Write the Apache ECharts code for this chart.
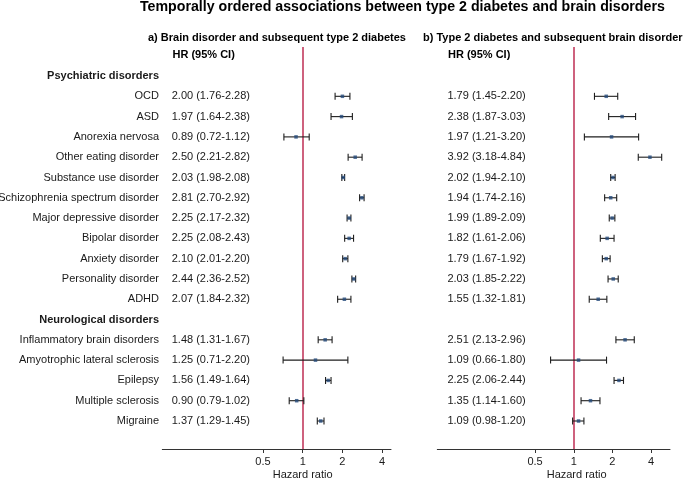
<!DOCTYPE html>
<html><head><meta charset="utf-8">
<script src="https://cdn.jsdelivr.net/npm/echarts@6/dist/echarts.min.js"></script>
<style>html,body{margin:0;padding:0;background:#fff}#c{width:685px;height:478px}</style>
</head><body><div id="c"></div>
<script>
const groupTitles = ['Psychiatric disorders', 'Neurological disorders'];
const psychiatricNames = ['OCD', 'ASD', 'Anorexia nervosa', 'Other eating disorder', 'Substance use disorder',
  'Schizophrenia spectrum disorder', 'Major depressive disorder', 'Bipolar disorder', 'Anxiety disorder',
  'Personality disorder', 'ADHD'];
const neurologicalNames = ['Inflammatory brain disorders', 'Amyotrophic lateral sclerosis', 'Epilepsy',
  'Multiple sclerosis', 'Migraine'];

// a) Brain disorder and subsequent type 2 diabetes
const hrA = [2.00, 1.97, 0.89, 2.50, 2.03, 2.81, 2.25, 2.25, 2.10, 2.44, 2.07, 1.48, 1.25, 1.56, 0.90, 1.37];
const loA = [1.76, 1.64, 0.72, 2.21, 1.98, 2.70, 2.17, 2.08, 2.01, 2.36, 1.84, 1.31, 0.71, 1.49, 0.79, 1.29];
const hiA = [2.28, 2.38, 1.12, 2.82, 2.08, 2.92, 2.32, 2.43, 2.20, 2.52, 2.32, 1.67, 2.20, 1.64, 1.02, 1.45];
// b) Type 2 diabetes and subsequent brain disorder
const hrB = [1.79, 2.38, 1.97, 3.92, 2.02, 1.94, 1.99, 1.82, 1.79, 2.03, 1.55, 2.51, 1.09, 2.25, 1.35, 1.09];
const loB = [1.45, 1.87, 1.21, 3.18, 1.94, 1.74, 1.89, 1.61, 1.67, 1.85, 1.32, 2.13, 0.66, 2.06, 1.14, 0.98];
const hiB = [2.20, 3.03, 3.20, 4.84, 2.10, 2.16, 2.09, 2.06, 1.92, 2.22, 1.81, 2.96, 1.80, 2.44, 1.60, 1.20];

const tickValues = [0.5, 1, 2, 4];

// rows: header, psychiatric items, header, neurological items
const rowLabels = [groupTitles[0], ...psychiatricNames, groupTitles[1], ...neurologicalNames];
const headerRows = [0, psychiatricNames.length + 1];
const itemRow = i => (i < psychiatricNames.length ? i + 1 : i + 2);
const rowIdx = rowLabels.map((_, i) => i);

function hrTextByRow(hr, lo, hi) {
  const m = {};
  hr.forEach((v, i) => { m[itemRow(i)] = v.toFixed(2) + ' (' + lo[i].toFixed(2) + '-' + hi[i].toFixed(2) + ')'; });
  return m;
}
const textA = hrTextByRow(hrA, loA, hiA);
const textB = hrTextByRow(hrB, loB, hiB);

const FONT = 'Liberation Sans, Arial, Helvetica, sans-serif';
const TXT = '#1a1a1a';
const Y_MIN = -1.43, Y_MAX = 18.38;

function renderErr(params, api) {
  const y = api.value(2);
  const p1 = api.coord([api.value(0), y]);
  const p2 = api.coord([api.value(1), y]);
  const h = 3.5;
  const style = { stroke: '#1e1e1e', lineWidth: 1.1, fill: null };
  return {
    type: 'group', children: [
      { type: 'line', shape: { x1: p1[0], y1: p1[1], x2: p2[0], y2: p2[1] }, style },
      { type: 'line', shape: { x1: p1[0], y1: p1[1] - h, x2: p1[0], y2: p1[1] + h }, style },
      { type: 'line', shape: { x1: p2[0], y1: p2[1] - h, x2: p2[0], y2: p2[1] + h }, style }
    ]
  };
}

function xAxisCfg(grid, min, max, namePad) {
  return {
    type: 'log', logBase: 2, gridIndex: grid, min, max, position: 'bottom',
    axisLine: { show: true, onZero: false, lineStyle: { color: '#333', width: 1 } },
    axisTick: { show: true, customValues: tickValues, length: 4, inside: false, lineStyle: { color: '#333' } },
    axisLabel: { customValues: tickValues, margin: 7, fontSize: 11, fontFamily: FONT, color: TXT, formatter: v => String(v) },
    splitLine: { show: false }, minorTick: { show: false },
    name: 'Hazard ratio', nameLocation: 'middle', nameGap: 20, nameMoveOverlap: false,
    nameTextStyle: { fontSize: 11, fontFamily: FONT, color: TXT, padding: [0, 0, 0, namePad] }
  };
}
function yBase(grid) {
  return {
    type: 'value', gridIndex: grid, inverse: true, min: Y_MIN, max: Y_MAX, position: 'left',
    axisLine: { show: false, onZero: false }, axisTick: { show: false }, splitLine: { show: false }
  };
}
function titleCfg(text, left, top, size) {
  return { text, left, top, padding: 0,
    textStyle: { fontSize: size, fontWeight: 'bold', color: '#000', fontFamily: FONT } };
}

const option = {
  animation: false,
  backgroundColor: '#fff',
  textStyle: { fontFamily: FONT },
  title: [
    titleCfg('Temporally ordered associations between type 2 diabetes and brain disorders', 140, 0, 14.2),
    titleCfg('a) Brain disorder and subsequent type 2 diabetes', 148, 32, 11),
    titleCfg('b) Type 2 diabetes and subsequent brain disorder', 423, 32, 11),
    titleCfg('HR (95% CI)', 172.5, 49.5, 11),
    titleCfg('HR (95% CI)', 448, 49.5, 11)
  ],
  grid: [
    { left: 162.3, top: 47, width: 228.7, height: 402, outerBoundsMode: 'none', containLabel: false },
    { left: 437.3, top: 47, width: 232.7, height: 402, outerBoundsMode: 'none', containLabel: false }
  ],
  xAxis: [
    xAxisCfg(0, Math.pow(2, -3.537), Math.pow(2, 2.224), 52),
    xAxisCfg(1, Math.pow(2, -3.53), Math.pow(2, 2.49), 46)
  ],
  yAxis: [
    Object.assign(yBase(0), {
      axisLabel: {
        customValues: rowIdx, margin: 3.3, fontSize: 11, fontFamily: FONT, color: TXT,
        formatter: v => {
          const i = Math.round(v);
          return headerRows.includes(i) ? '{b|' + rowLabels[i] + '}' : rowLabels[i];
        },
        rich: { b: { fontWeight: 'bold', fontSize: 11, fontFamily: FONT, color: TXT } }
      }
    }),
    Object.assign(yBase(0), {
      offset: -87.7,
      axisLabel: {
        customValues: rowIdx, margin: 0, fontSize: 11, fontFamily: FONT, color: TXT,
        formatter: v => textA[Math.round(v)] || ''
      }
    }),
    Object.assign(yBase(1), { axisLabel: { show: false } }),
    Object.assign(yBase(1), {
      offset: -88.4,
      axisLabel: {
        customValues: rowIdx, margin: 0, fontSize: 11, fontFamily: FONT, color: TXT,
        formatter: v => textB[Math.round(v)] || ''
      }
    })
  ],
  series: [
    {
      type: 'custom', xAxisIndex: 0, yAxisIndex: 0, z: 6, silent: true,
      renderItem: renderErr, encode: { x: [0, 1], y: 2 },
      data: loA.map((lo, i) => [lo, hiA[i], itemRow(i)])
    },
    {
      type: 'scatter', xAxisIndex: 0, yAxisIndex: 0, z: 7, silent: true,
      symbol: 'rect', symbolSize: 3.5, itemStyle: { color: '#244a7a' },
      data: hrA.map((v, i) => [v, itemRow(i)]),
      markLine: {
        silent: true, symbol: ['none', 'none'], label: { show: false },
        lineStyle: { color: '#c23a5e', width: 1.6, type: 'solid' },
        data: [{ xAxis: 1 }]
      }
    },
    {
      type: 'custom', xAxisIndex: 1, yAxisIndex: 2, z: 6, silent: true,
      renderItem: renderErr, encode: { x: [0, 1], y: 2 },
      data: loB.map((lo, i) => [lo, hiB[i], itemRow(i)])
    },
    {
      type: 'scatter', xAxisIndex: 1, yAxisIndex: 2, z: 7, silent: true,
      symbol: 'rect', symbolSize: 3.5, itemStyle: { color: '#244a7a' },
      data: hrB.map((v, i) => [v, itemRow(i)]),
      markLine: {
        silent: true, symbol: ['none', 'none'], label: { show: false },
        lineStyle: { color: '#c23a5e', width: 1.6, type: 'solid' },
        data: [{ xAxis: 1 }]
      }
    }
  ]
};

const chart = echarts.init(document.getElementById('c'), null, { renderer: 'canvas' });
chart.setOption(option);
</script>
</body></html>
